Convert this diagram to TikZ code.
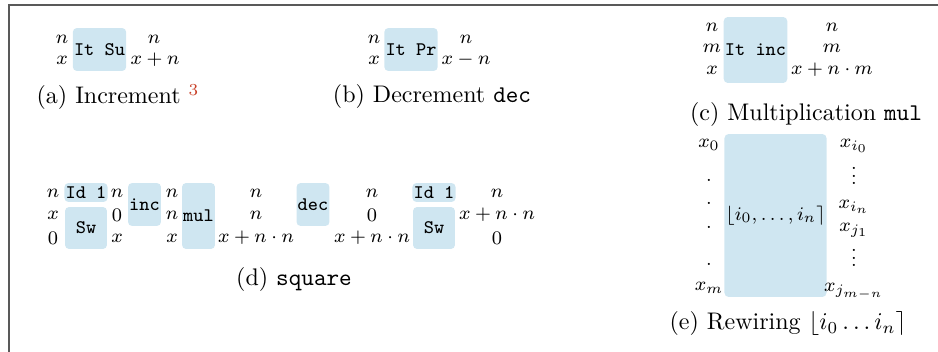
\documentclass[tikz,border=0pt]{standalone}
\usepackage{amsmath}
\definecolor{boxblue}{RGB}{207,230,241}
\definecolor{notered}{RGB}{200,64,40}
\newcommand{\tinyvdots}{\vbox{\baselineskip3.3pt\lineskiplimit0pt\hbox{.}\hbox{.}\hbox{.}}}
\tikzset{
  blk/.style={fill=boxblue,rounded corners=1.7pt,inner sep=0.5pt,font=\footnotesize\ttfamily},
  lbl/.style={inner sep=0pt,font=\footnotesize},
  captxt/.style={inner sep=0pt,font=\normalsize}
}
\begin{document}
\begin{tikzpicture}[x=0.4167pt,y=-0.4167pt]
\useasboundingbox (0,0) rectangle (938,352);
\draw[black!65,line width=0.6pt] (938,5) -- (9,5) -- (9,352);
% (a) increment
\node[blk,minimum width=22.1pt,minimum height=17.9pt] (su) at (99.5,49.5) {It Su};
\node[lbl] (sun) at (62,39) {$n$}; \node[lbl] (sux) at (62,60) {$x$};
\node[lbl] (suno) at (154,39) {$n$}; \node[lbl] (suxo) at (155,60) {$x+n$};
\node[captxt] (capa) at (118,97) {(a) Increment \textcolor{notered}{$^{3}$}};
% (b) decrement
\node[blk,minimum width=21.7pt,minimum height=17.9pt] (pr) at (411,49.5) {It Pr};
\node[lbl] (prn) at (374,39) {$n$}; \node[lbl] (prx) at (374,60) {$x$};
\node[lbl] (prno) at (466,39) {$n$}; \node[lbl] (prxo) at (466,60) {$x-n$};
\node[captxt] (capb) at (432,97) {(b) Decrement \texttt{dec}};
% (c) multiplication
\node[blk,minimum width=26.25pt,minimum height=27.5pt] (it) at (755.5,50) {It inc};
\node[lbl] (itn) at (712,27) {$n$}; \node[lbl] (itm) at (712,48) {$m$}; \node[lbl] (itx) at (712,70) {$x$};
\node[lbl] (itno) at (832,27) {$n$}; \node[lbl] (itmo) at (832,48) {$m$}; \node[lbl] (itxo) at (832,70) {$x+n\cdot m$};
\node[captxt] (capc) at (806,115) {(c) Multiplication \texttt{mul}};
% (d) square
\node[blk,minimum width=17.5pt,minimum height=7.9pt] (ida) at (86,192.5) {Id 1};
\node[blk,minimum width=17.5pt,minimum height=17.5pt] (swa) at (86,228) {Sw};
\node[blk,minimum width=13.75pt,minimum height=17.9pt] (inc) at (144.5,204.5) {inc};
\node[blk,minimum width=12.9pt,minimum height=27.5pt] (mul) at (198.5,216) {mul};
\node[blk,minimum width=13.3pt,minimum height=17.9pt] (dec) at (313,204.5) {dec};
\node[blk,minimum width=17.5pt,minimum height=7.9pt] (idb) at (434,192.5) {Id 1};
\node[blk,minimum width=17.5pt,minimum height=17.5pt] (swb) at (434,228) {Sw};
\node[lbl] (c0a) at (53,193) {$n$}; \node[lbl] (c0b) at (53,215) {$x$}; \node[lbl] (c0c) at (53,238) {$0$};
\node[lbl] (c1a) at (117,193) {$n$}; \node[lbl] (c1b) at (117,215) {$0$}; \node[lbl] (c1c) at (117,238) {$x$};
\node[lbl] (c2a) at (172,193) {$n$}; \node[lbl] (c2b) at (172,215) {$n$}; \node[lbl] (c2c) at (172,238) {$x$};
\node[lbl] (c3a) at (256,193) {$n$}; \node[lbl] (c3b) at (256,215) {$n$}; \node[lbl] (c3c) at (256,238) {$x+n\cdot n$};
\node[lbl] (c4a) at (372,193) {$n$}; \node[lbl] (c4b) at (372,215) {$0$}; \node[lbl] (c4c) at (372,238) {$x+n\cdot n$};
\node[lbl] (c5a) at (497,193) {$n$}; \node[lbl] (c5b) at (497,215) {$x+n\cdot n$}; \node[lbl] (c5c) at (497,238) {$0$};
\node[captxt] (capd) at (294,280) {(d) \texttt{square}};
% (e) rewiring
\node[blk,font=\footnotesize,minimum width=40.4pt,minimum height=67.9pt] (rw) at (775.5,215.5) {$\lfloor i_0,\dots,i_n\rceil$};
\node[lbl] (rwx0) at (709,145) {$x_0$};
\node[lbl] (rwd1) at (709,180) {$.$}; \node[lbl] (rwd2) at (709,203) {$.$};
\node[lbl] (rwd3) at (709,227) {$.$}; \node[lbl] (rwd4) at (709,264) {$.$};
\node[lbl] (rwxm) at (709,288) {$x_m$};
\node[lbl] (rwo1) at (854,146) {$x_{i_0}$};
\node[lbl] (rwv1) at (854,176) {\tinyvdots};
\node[lbl] (rwo2) at (854,207) {$x_{i_n}$};
\node[lbl] (rwo3) at (854,230) {$x_{j_1}$};
\node[lbl] (rwv2) at (854,258) {\tinyvdots};
\node[lbl] (rwo4) at (854,291) {$x_{j_{m-n}}$};
\node[captxt] (cape) at (788,324) {(e) Rewiring $\lfloor i_0\dots i_n\rceil$};
\end{tikzpicture}
\end{document}
